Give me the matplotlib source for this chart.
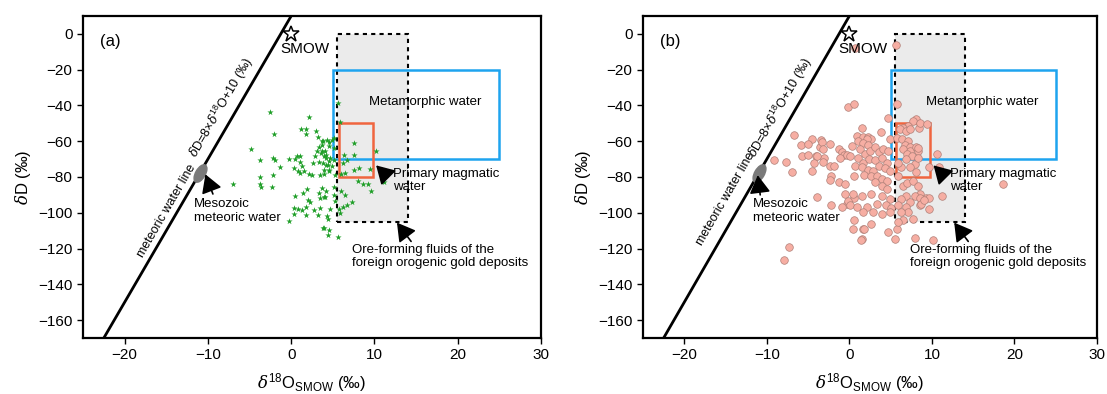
import matplotlib
matplotlib.use('Agg')
import matplotlib.pyplot as plt
from matplotlib.patches import Rectangle
from matplotlib.markers import MarkerStyle
from matplotlib.transforms import Affine2D
import numpy as np

plt.rcParams['font.family'] = ['Liberation Sans', 'DejaVu Sans']
plt.rcParams['mathtext.fontset'] = 'custom'
plt.rcParams['mathtext.rm'] = 'Liberation Sans'
plt.rcParams['mathtext.it'] = 'DejaVu Serif:italic'
plt.rcParams['mathtext.bf'] = 'Liberation Sans:bold'

# (a) green stars: d18O, dD
a_o18 = [-2.6, 2.1, 1.2, 1.8, 3.0, -2.1, 1.8, 3.2, 3.8, 4.5, -4.8, 3.4, 3.1, 4.1, 3.6,
         -2.2, -1.9, -3.8, -0.3, 0.4, 0.7, 1.0, 1.1, 2.9, 3.9, 4.2, 4.5, 3.4, 2.6, 4.2,
         -1.3, 0.3, 1.3, 0.8, 1.0, 1.5, 2.1, 2.5, 3.5, 4.0, 4.5, -3.8, -2.2, -7.0, -3.8,
         -3.6, -2.3, 1.9, 1.4, 0.4, 3.4, 3.5, 4.1, 2.0, 2.2, 0.3, 0.8, 1.3, 1.8, 2.8,
         3.5, 0.3, 1.8, 3.2, 4.4, -0.3, 3.8, 4.4,
         5.6, 5.9, 7.5, 10.2, 3.7, 4.3, 4.9, 5.2, 3.7, 4.6, 5.1, 6.4, 7.5, 6.7, 6.2,
         3.7, 4.2, 4.7, 5.2, 3.8, 4.4, 4.9, 3.9, 4.5, 5.3, 6.0, 6.5, 7.5, 8.2, 9.5,
         8.0, 8.6, 9.2, 11.2, 9.6, 3.7, 4.2, 5.1, 6.0, 6.5, 7.3, 6.7, 6.2, 3.9, 5.1,
         5.3, 5.7, 5.9, 4.7, 4.3, 3.9, 4.5, 5.6]
a_dD = [-43.9, -46.3, -53.2, -53.2, -54.1, -55.7, -56.1, -57.9, -59.8, -60.7, -64.3, -63.5, -65.4, -65.4, -66.7,
        -69.4, -70.6, -70.7, -69.8, -69.8, -68.0, -68.0, -71.7, -68.0, -68.0, -69.4, -71.3, -71.5, -72.2, -73.2,
        -74.4, -75.0, -74.0, -76.5, -77.8, -76.5, -78.3, -79.1, -79.1, -78.3, -75.9, -80.0, -79.1, -83.9, -83.9,
        -85.7, -85.7, -86.5, -88.9, -90.7, -88.9, -91.7, -91.3, -92.6, -93.9, -97.6, -98.1, -98.3, -96.9, -98.3,
        -97.6, -100.9, -101.3, -101.3, -103.2, -104.6, -108.7, -112.4,
        -38.9, -49.1, -61.1, -65.7, -59.8, -59.3, -59.3, -58.0, -61.9, -62.8, -63.8, -67.6, -67.6, -70.4, -72.2,
        -65.7, -67.6, -69.1, -70.4, -72.2, -73.2, -74.1, -75.9, -76.9, -78.7, -78.5, -78.0, -75.9, -75.0, -75.4,
        -82.0, -83.9, -83.9, -82.8, -87.9, -86.1, -87.6, -85.7, -87.9, -90.2, -93.9, -95.7, -96.9, -91.3, -89.8,
        -93.5, -98.1, -99.9, -98.1, -101.9, -108.3, -109.6, -113.5]

# (b) pink circles: d18O, dD
b_o18 = [-9.1, -7.7, -6.9, -6.7, -5.8, -5.7, -5.0, -4.5, -3.4, -4.1, -4.3, -3.5, -2.3, -3.1, -2.4,
         -1.3, -0.9, -0.6, -1.1, -4.5, -2.2, -2.3, -1.3, -0.5, -2.2, -0.5, -0.3, -7.3, -7.9, -0.2,
         -5.0, -3.3, -3.9, -3.2, -1.9, -3.9, -0.9, -3.2, -0.3, 0.6, -0.2, 0.7, 0.6, 5.6,
         1.5, 3.8, 4.7, 5.8, 8.1, 7.7, 7.1, 6.5, 6.1, 6.9, 7.4, 8.4, 0.9, 1.6, 2.3,
         2.6, 2.1, 1.1, 1.6, 2.2, 4.9, 5.8, 6.4, 7.1, 6.8, 7.3, 6.5, 7.4, 8.1, 8.3,
         7.0, 7.6, 6.9, 7.9, 7.3, 6.3, 8.1, 5.9,
         0.3, 1.3, 1.9, 2.5, 3.1, 3.6, 4.1, 4.7, 0.1, 1.0, 1.7, 2.4, 3.1, 3.9, 4.5,
         0.7, 1.5, 2.2, 2.9, 3.6, 4.3, 4.9, 0.6, 1.8, 2.6, 3.4, 3.9, 4.6, 3.1, 3.9,
         4.6, 0.5, 1.5, 2.6, 3.9, 4.9, 0.1, 0.9, 2.1, 3.3, 4.4, 5.1, 1.7, 2.9, 3.9,
         4.9, 0.6, 2.6, 0.5, 1.7, 4.7, 5.8, 1.5, 5.5, 7.9,
         5.9, 6.5, 7.0, 7.7, 8.3, 8.6, 7.9, 6.9, 6.3, 7.3, 5.9, 6.9, 8.5, 7.1, 6.3,
         7.7, 6.5, 5.9,
         10.6, 10.8, 9.7, 18.6, 11.2, 9.6, 9.3, 9.7, 8.5, 8.7, 9.1, 8.5, 9.4, 8.3, 8.3,
         10.1, 1.8, 1.4]
b_dD = [-70.6, -71.5, -77.4, -56.7, -62.2, -68.1, -67.8, -58.9, -59.3, -68.1, -72.4, -63.5, -61.7, -69.1, -73.7,
        -64.4, -65.9, -67.8, -69.6, -76.5, -79.3, -81.7, -82.9, -83.9, -95.9, -89.4, -95.0, -119.1, -126.5, -40.9,
        -61.7, -60.4, -68.5, -71.5, -74.1, -91.3, -96.9, -64.1, -67.8, -91.9, -93.2, -8.0, -39.0, -6.1,
        -52.4, -54.6, -46.8, -39.1, -47.8, -48.7, -51.5, -52.4, -53.3, -54.3, -53.3, -52.4, -57.0, -57.4, -57.4,
        -58.5, -58.9, -59.8, -61.1, -62.2, -58.5, -58.0, -58.9, -59.8, -62.2, -63.0, -64.4, -65.4, -63.5, -65.4,
        -67.2, -68.5, -70.0, -72.8, -74.6, -74.6, -77.4, -72.2,
        -62.6, -64.4, -67.2, -65.4, -63.5, -66.3, -64.4, -65.4, -68.1, -69.1, -71.9, -70.0, -70.4, -69.6, -71.9,
        -73.7, -74.6, -75.9, -76.5, -73.7, -75.2, -76.5, -79.3, -78.9, -79.6, -79.3, -81.1, -82.0, -83.0, -84.8,
        -86.7, -89.4, -90.4, -89.4, -90.4, -92.2, -95.6, -96.9, -96.9, -95.0, -95.6, -97.4, -99.6, -99.6, -100.6,
        -99.6, -104.3, -106.1, -108.9, -109.3, -110.7, -109.3, -114.8, -114.4, -114.1,
        -79.3, -84.8, -83.3, -82.0, -84.8, -89.4, -90.4, -90.4, -92.2, -94.1, -95.9, -96.9, -95.9, -99.6, -99.6,
        -103.3, -104.3, -105.2,
        -67.2, -74.6, -74.6, -83.9, -90.7, -97.8, -91.5, -91.5, -91.5, -95.2, -92.6, -49.6, -50.5, -63.7, -69.3,
        -115.0, -108.9, -115.0]

# reference fields (x0, x1, y0, y1)
ore_box = (5.5, 14.0, -105, 0)
metamorphic_box = (5.0, 25.0, -70, -20)
magmatic_box = (5.7, 9.8, -80, -50)
mesozoic = (-11.0, -78.0)
mwl_slope, mwl_icpt = 8, 10


def base_panel(ax, label, mwl_text_y, meso_arrow):
    ax.set_xlim(-25, 30)
    ax.set_ylim(-170, 10)
    ax.set_xticks([-20, -10, 0, 10, 20, 30])
    ax.set_yticks(np.arange(0, -161, -20))
    ax.tick_params(direction='out', length=4, width=1, labelsize=11, top=False, right=False)
    for s in ax.spines.values():
        s.set_linewidth(1.6)

    x0, x1, y0, y1 = ore_box
    ax.add_patch(Rectangle((x0, y0), x1 - x0, y1 - y0, facecolor='#ebebeb', edgecolor='none', zorder=0.5))
    ax.add_patch(Rectangle((x0, y0), x1 - x0, y1 - y0, facecolor='none', edgecolor='k',
                           lw=1.5, ls=(0, (2, 2)), zorder=1))
    x0, x1, y0, y1 = metamorphic_box
    ax.add_patch(Rectangle((x0, y0), x1 - x0, y1 - y0, facecolor='none', edgecolor='#1ea4ef', lw=1.8, zorder=1.2))
    x0, x1, y0, y1 = magmatic_box
    ax.add_patch(Rectangle((x0, y0), x1 - x0, y1 - y0, facecolor='none', edgecolor='#f0653f', lw=1.8, zorder=1.3))

    # meteoric water line
    xl = np.array([-30, 5])
    ax.plot(xl, mwl_slope * xl + mwl_icpt, color='k', lw=2, zorder=2)
    ax.text(-8.4, -41, r'$\delta$D=8×$\delta^{\mathrm{18}}$O+10 (‰)', rotation=60, fontsize=9,
            ha='center', va='center', rotation_mode='anchor')
    ax.text(-15.0, mwl_text_y, 'meteoric water line', rotation=60, fontsize=9,
            ha='center', va='center', rotation_mode='anchor')

    # SMOW
    ax.plot(0, 0, marker='*', ms=12, mfc='white', mec='k', mew=1.1, zorder=4)
    ax.text(1.7, -8.5, 'SMOW', fontsize=11, ha='center', va='center', zorder=4)

    # Mesozoic meteoric water
    ell = MarkerStyle('o', transform=Affine2D().scale(1.0, 0.5).rotate_deg(60))
    ax.plot(*mesozoic, marker=ell, ms=14, color='#7a7a7a', mec='#7a7a7a', zorder=3)

    arrow = dict(arrowstyle='-|>,head_length=0.55,head_width=0.32', color='k', lw=1.2,
                 mutation_scale=20, shrinkA=0, shrinkB=0)
    ax.annotate('', xy=meso_arrow[0], xytext=meso_arrow[1], arrowprops=arrow, zorder=5)
    ax.annotate('', xy=(10.2, -73.5), xytext=(11.6, -80), arrowprops=arrow, zorder=5)
    ax.annotate('', xy=(12.7, -105.5), xytext=(14.4, -116), arrowprops=arrow, zorder=5)

    ax.text(-11.7, -99, 'Mesozoic\nmeteoric water', fontsize=9.5, ha='left', va='center', linespacing=1.15)
    ax.text(12.2, -82, 'Primary magmatic\nwater', fontsize=9.5, ha='left', va='center', linespacing=1.15)
    ax.text(9.3, -38, 'Metamorphic water', fontsize=9.5, ha='left', va='center')
    ax.text(7.3, -124.3, 'Ore-forming fluids of the\nforeign orogenic gold deposits', fontsize=9.5,
            ha='left', va='center', linespacing=1.15)
    ax.text(-21.7, -4.4, label, fontsize=12, ha='center', va='center')

    ax.set_xlabel(r'$\delta^{\mathrm{18}}$O$_{\mathrm{SMOW}}$ (‰)', fontsize=12, labelpad=6)
    ax.set_ylabel(r'$\delta$D (‰)', fontsize=12)


fig = plt.figure(figsize=(11.07, 3.94), dpi=100)
ax1 = fig.add_axes([83 / 1107, 56 / 394, 458 / 1107, 322 / 394])
ax2 = fig.add_axes([643 / 1107, 56 / 394, 454 / 1107, 322 / 394])

base_panel(ax1, '(a)', -99, ((-10.3, -78.5), (-9.4, -89.5)))
ax1.scatter(a_o18, a_dD, marker='*', s=22, color='#1e9e27', linewidths=0, zorder=3)

base_panel(ax2, '(b)', -92, ((-11.1, -79), (-10.8, -90)))
ax2.scatter(b_o18, b_dD, marker='o', s=30, facecolor='#f6aea3', edgecolor='#b08078',
            linewidths=0.5, zorder=3)

plt.savefig('out.png', dpi=100)
